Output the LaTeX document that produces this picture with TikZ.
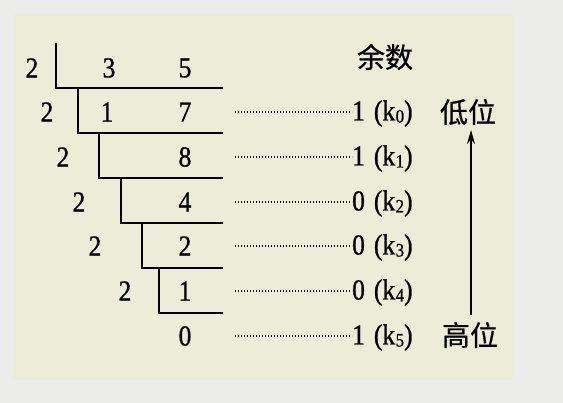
\documentclass[tikz,border=0pt]{standalone}
\usepackage{fontspec}
\setmainfont{Liberation Serif}
\newfontfamily\numfont{Liberation Serif}[FakeBold=0.9, FakeStretch=0.88]
\newfontfamily\cjk{Noto Sans CJK SC}[FakeBold=0.6]
\usetikzlibrary{arrows.meta}

\definecolor{paper}{RGB}{236,236,234}
\definecolor{panel}{RGB}{236,236,216}

\tikzset{
  num/.style={font=\numfont\fontsize{29}{29}\selectfont, inner sep=0pt},
  rem/.style={font=\numfont\fontsize{29}{29}\selectfont, inner sep=0pt, anchor=west,
    text height=19pt, text depth=6pt},
  han/.style={font=\cjk\fontsize{28}{28}\selectfont, inner sep=0pt},
  bar/.style={line width=1.8pt},
  dots/.style={line width=1.3pt, dash pattern=on 1.2pt off 1.8pt}
}
\newcommand{\kk}[1]{(k\kern0.5pt{\fontsize{19}{19}\selectfont\raisebox{-2pt}{#1}})}

\begin{document}
\begin{tikzpicture}[x=1pt,y=-1pt]
\fill[paper] (0,0) rectangle (563,403);
\fill[panel] (13,14) rectangle (513,380);
\useasboundingbox (0,0) rectangle (563,403);

% the division ladder
\draw[bar] (56,43) -- (56,88) -- (223,88);
\draw[bar] (78,88) -- (78,133) -- (223,133);
\draw[bar] (99,133) -- (99,178) -- (223,178);
\draw[bar] (121,178) -- (121,223) -- (223,223);
\draw[bar] (142,223) -- (142,268) -- (223,268);
\draw[bar] (159,268) -- (159,313) -- (223,313);

\node[num] (d0) at (32,68) {2};
\node[num] (d1) at (47,112) {2};
\node[num] (d2) at (63,157) {2};
\node[num] (d3) at (79,202) {2};
\node[num] (d4) at (95,246) {2};
\node[num] (d5) at (125,291) {2};

\node[num] (q0a) at (109,68) {3};
\node[num] (q0) at (185,68) {5};
\node[num] (q1a) at (107,112) {1};
\node[num] (q1) at (185,112) {7};
\node[num] (q2) at (185,157) {8};
\node[num] (q3) at (185,202) {4};
\node[num] (q4) at (185,246) {2};
\node[num] (q5) at (185,291) {1};
\node[num] (q6) at (185,336) {0};

% remainders
\node[han] (head) at (385,57) {余数};
\node[rem] (r0) at (352,114) {1\hspace{9pt}\kk{0}};
\node[rem] (r1) at (352,159) {1\hspace{9pt}\kk{1}};
\node[rem] (r2) at (352,204) {0\hspace{9pt}\kk{2}};
\node[rem] (r3) at (352,248) {0\hspace{9pt}\kk{3}};
\node[rem] (r4) at (352,293) {0\hspace{9pt}\kk{4}};
\node[rem] (r5) at (352,338) {1\hspace{9pt}\kk{5}};

\coordinate (s0) at (235,112);
\coordinate (s1) at (235,157);
\coordinate (s2) at (235,202);
\coordinate (s3) at (235,246);
\coordinate (s4) at (235,291);
\coordinate (s5) at (235,336);
\draw[dots] (s0) -- (s0 -| r0.west);
\draw[dots] (s1) -- (s1 -| r1.west);
\draw[dots] (s2) -- (s2 -| r2.west);
\draw[dots] (s3) -- (s3 -| r3.west);
\draw[dots] (s4) -- (s4 -| r4.west);
\draw[dots] (s5) -- (s5 -| r5.west);

% low / high order bits
\node[han] (lo) at (468,112) {低位};
\node[han] (hi) at (470,335) {高位};
\coordinate (a0) at (471,315);
\coordinate (a1) at (471,130);
\draw[line width=1.6pt, -{Stealth[length=14pt,width=8pt]}] (a0) -- (a1);
\end{tikzpicture}
\end{document}
